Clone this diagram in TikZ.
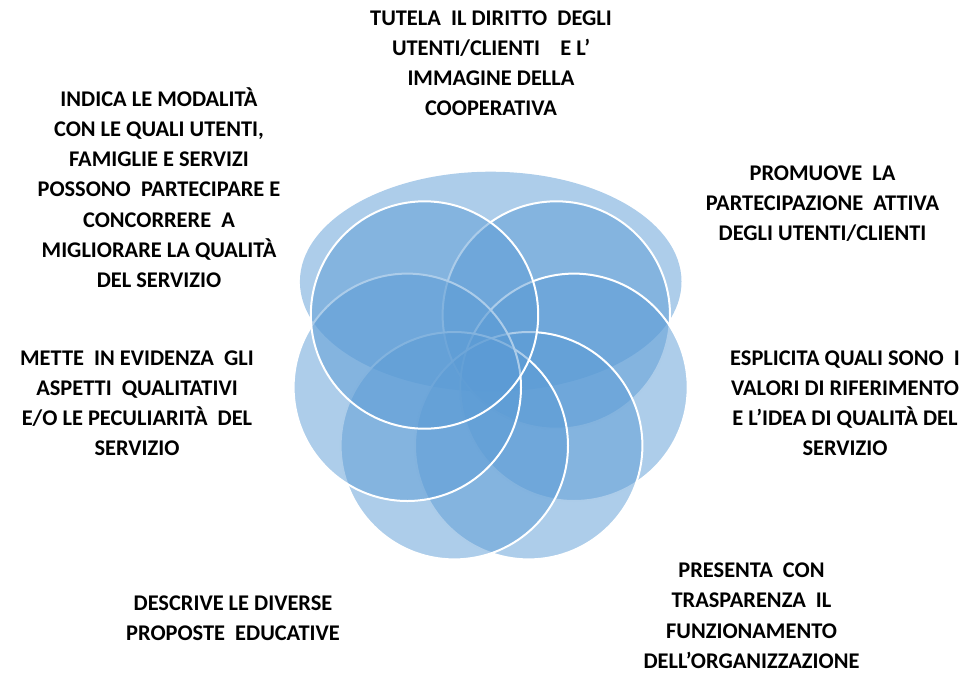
\documentclass[tikz,border=0pt]{standalone}
\usepackage{fontspec}
\setmainfont{Carlito}
\usetikzlibrary{shapes.geometric}
\definecolor{accblue}{RGB}{91,155,213}
\tikzset{
  petal/.style={circle, draw=white, line width=2pt, fill=accblue, fill opacity=0.5,
    minimum size=227.4pt, inner sep=0pt},
  halo/.style={ellipse, fill=accblue, fill opacity=0.5, minimum width=381.6pt,
    minimum height=220pt, inner sep=0pt},
  lbl/.style={align=center, font=\fontsize{22.4}{30.3}\selectfont\bfseries,
    inner sep=0pt, anchor=north, text=black}
}
\begin{document}
\begin{tikzpicture}[x=1pt,y=-1pt]
\path[use as bounding box] (0,0) rectangle (976,673);
% shapes, bottom to top
\node[halo] (ell) at (490.7,281.7) {};
\node[petal] (cB) at (556.3,315) {};
\node[petal] (cC) at (574,387.3) {};
\node[petal] (cD) at (528.7,445.7) {};
\node[petal] (cE) at (454.3,445.7) {};
\node[petal] (cF) at (407.3,387.3) {};
\node[petal] (cA) at (424.5,315) {};
% labels
\node[lbl] (t1) at (491,3.6) {\strut TUTELA\ \ IL DIRITTO\ \ DEGLI\\UTENTI/CLIENTI\ \ \ \ E L’\\IMMAGINE DELLA\\COOPERATIVA};
\node[lbl] (t2) at (159,84.6) {\strut INDICA LE\ MODALITÀ\\CON\ LE QUALI UTENTI,\\FAMIGLIE E SERVIZI\\POSSONO\ \ PARTECIPARE E\\CONCORRERE\ \ A\\MIGLIORARE LA QUALITÀ\\DEL SERVIZIO};
\node[lbl] (t3) at (822.5,158.6) {\strut PROMUOVE\ \ LA\\PARTECIPAZIONE\ \ ATTIVA\\DEGLI\ UTENTI/CLIENTI};
\node[lbl] (t4) at (845,343.6) {\strut ESPLICITA\ QUALI SONO\ \ I\\VALORI DI RIFERIMENTO\\E L’IDEA DI QUALITÀ DEL\\SERVIZIO};
\node[lbl] (t5) at (751.5,556) {\strut PRESENTA\ \ CON\\TRASPARENZA\ \ IL\\FUNZIONAMENTO\\DELL’ORGANIZZAZIONE};
\node[lbl] (t6) at (233,588.6) {\strut DESCRIVE LE DIVERSE\\PROPOSTE\ \ EDUCATIVE};
\node[lbl] (t7) at (137,343.6) {\strut METTE\ \ IN EVIDENZA\ \ GLI\\ASPETTI\ \ QUALITATIVI\\E/O LE PECULIARITÀ\ \ DEL\\SERVIZIO};
\end{tikzpicture}
\end{document}
